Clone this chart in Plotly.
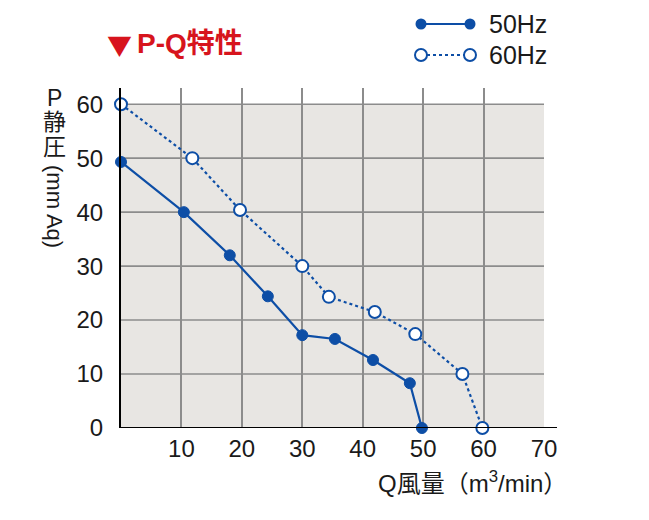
import plotly.graph_objects as go

# ---- data ----
q50 = [0, 10.4, 18.0, 24.3, 30.0, 35.4, 41.7, 47.8, 49.8]
p50 = [49.3, 40.0, 32.0, 24.4, 17.2, 16.5, 12.6, 8.3, 0]
q60 = [0, 11.8, 19.7, 30.0, 34.4, 42.0, 48.7, 56.5, 59.8]
p60 = [60.0, 50.0, 40.4, 30.0, 24.3, 21.5, 17.4, 10.0, 0]
x_ticks = [10, 20, 30, 40, 50, 60, 70]
y_ticks = [0, 10, 20, 30, 40, 50, 60]
series_names = ["50Hz", "60Hz"]

OFF = 8  # page body margin
W, H = 641, 512
X0, X70, Y0, YTOP = 121, 544, 428, 88
L = X0 - OFF
T = 2
R = W - (X70 - OFF)
B = H - (Y0 - OFF)
PW, PH = W - L - R, H - T - B

def px(x):
    return (x - OFF - L) / PW

def py(y):
    return (Y0 - y) / PH

BLUE = "#0d4ea6"
FONT = "Liberation Sans, Arial, Noto Sans CJK JP"

fig = go.Figure()

fig.add_trace(go.Scatter(
    x=q50, y=p50, mode="lines+markers", name=series_names[0],
    line=dict(color=BLUE, width=2.2),
    marker=dict(color=BLUE, size=11, line=dict(color=BLUE, width=1)),
    cliponaxis=False, showlegend=False))
fig.add_trace(go.Scatter(
    x=q60, y=p60, mode="lines+markers", name=series_names[1],
    line=dict(color=BLUE, width=2.2, dash="dot"),
    marker=dict(color="white", size=12, line=dict(color=BLUE, width=2)),
    cliponaxis=False, showlegend=False))

fig.add_trace(go.Scatter(
    x=[421, 470], y=[24, 24], mode="lines+markers", xaxis="x2", yaxis="y2",
    line=dict(color=BLUE, width=2.2),
    marker=dict(color=BLUE, size=11), cliponaxis=False, showlegend=False,
    hoverinfo="skip"))
fig.add_trace(go.Scatter(
    x=[421, 470], y=[55, 55], mode="lines+markers", xaxis="x2", yaxis="y2",
    line=dict(color=BLUE, width=2.2, dash="dot"),
    marker=dict(color="white", size=12, line=dict(color=BLUE, width=2)),
    cliponaxis=False, showlegend=False, hoverinfo="skip"))

main_top = py(YTOP)

fig.update_layout(
    width=W, height=H,
    margin=dict(l=L, r=R, t=T, b=B),
    paper_bgcolor="white", plot_bgcolor="white",
    font=dict(family=FONT, color="#1a1a1a", size=24),
    xaxis=dict(range=[0, 70], tickvals=x_ticks, showgrid=True,
               gridcolor="#8c8c8c", gridwidth=1.6, zeroline=False,
               showline=False, ticks="", tickfont=dict(size=24),
               domain=[0, 1], anchor="y", ticklabelstandoff=4),
    yaxis=dict(range=[0, 63], tickvals=y_ticks, showgrid=False,
               zeroline=False, showline=True, linecolor="black", linewidth=2,
               ticks="", tickfont=dict(size=24), domain=[0, main_top],
               anchor="x", ticklabelstandoff=11),
    xaxis2=dict(range=[X0, X70], domain=[0, 1], anchor="y2",
                visible=False, fixedrange=True),
    yaxis2=dict(range=[70, OFF + T], domain=[py(70), 1], anchor="x2",
                visible=False, fixedrange=True),
)

shapes = []
shapes.append(dict(type="rect", xref="x", yref="y", x0=0, x1=70, y0=0, y1=60,
                   fillcolor="#e8e6e3", line=dict(width=0), layer="below"))
for v in y_ticks[1:]:
    shapes.append(dict(type="line", xref="x", yref="y", x0=0, x1=70, y0=v, y1=v,
                       line=dict(color="#8c8c8c", width=1.6), layer="below"))
shapes.append(dict(type="line", xref="paper", yref="y", x0=0, x1=px(557),
                   y0=0, y1=0, line=dict(color="black", width=2)))
fig.update_layout(shapes=shapes)

ann = []
ann.append(dict(text="▼", x=px(119), y=py(44), xref="paper", yref="paper",
                xanchor="center", yanchor="middle", showarrow=False,
                font=dict(size=25, color="#d7141d", family="Noto Sans CJK JP")))
ann.append(dict(text="<b>P-Q特性</b>", x=px(135), y=py(43), xref="paper", yref="paper",
                xanchor="left", yanchor="middle", showarrow=False,
                font=dict(size=28, color="#d7141d", family=FONT)))
for name, yy in zip(series_names, [24, 55]):
    ann.append(dict(text=name, x=px(487), y=py(yy), xref="paper", yref="paper",
                    xanchor="left", yanchor="middle", showarrow=False,
                    font=dict(size=25, family=FONT)))
for t, yy in [("P", 97), ("静", 121), ("圧", 146)]:
    ann.append(dict(text=t, x=px(54), y=py(yy), xref="paper", yref="paper",
                    xanchor="center", yanchor="middle", showarrow=False,
                    height=23, font=dict(size=23, family=FONT)))
ann.append(dict(text="(mm Aq)", x=px(55), y=py(206), xref="paper", yref="paper",
                xanchor="center", yanchor="middle", showarrow=False, textangle=90,
                font=dict(size=22, family=FONT)))
ann.append(dict(text="Q風量（m<sup>3</sup>/min）", x=px(376), y=py(482), xref="paper",
                yref="paper", xanchor="left", yanchor="middle", showarrow=False,
                font=dict(size=24, family=FONT)))
fig.update_layout(annotations=ann)

fig.write_html("out.html")
